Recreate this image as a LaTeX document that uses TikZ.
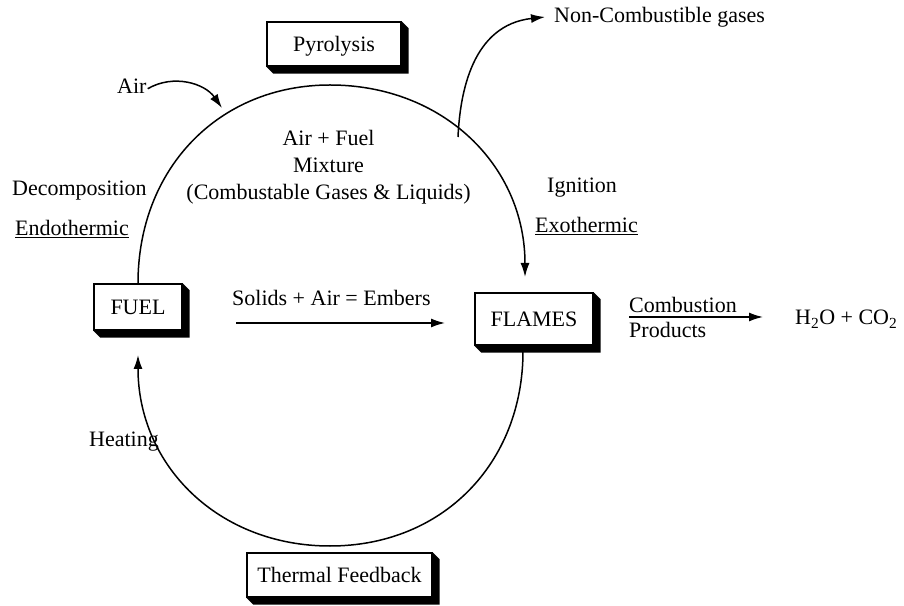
\documentclass[tikz,border=0pt]{standalone}
\usepackage{fontspec}
\setmainfont{Liberation Serif}
\usetikzlibrary{arrows.meta}
\begin{document}
\begin{tikzpicture}[x=1pt,y=1pt,
  every node/.style={font=\fontsize{22}{26}\selectfont, inner sep=0pt},
  lbl/.style={anchor=base west},
  clbl/.style={anchor=base},
  boxnode/.style={draw, line width=1.3pt, fill=white, text height=14.6pt, text depth=0pt},
  conn/.style={line width=1.5pt},
  arr/.style={conn, -{Latex[length=14pt,width=9pt]}},
  shade3d/.style={fill=black}]
\useasboundingbox (0,0) rectangle (904,605);
% boxes
\node[boxnode, minimum width=134pt, minimum height=44pt] (pyro) at (334,561) {Pyrolysis};
\node[boxnode, minimum width=88pt, minimum height=46pt] (fuel) at (138,298) {FUEL};
\node[boxnode, minimum width=118pt, minimum height=52pt] (flames) at (534,286) {FLAMES};
\node[boxnode, minimum width=185pt, minimum height=44pt] (thermal) at (339.5,30) {Thermal Feedback};
\foreach \n in {pyro,fuel,flames,thermal}{
  \fill[shade3d] (\n.south west) -- ([shift={(7pt,-7pt)}]\n.south west)
    -- ([shift={(7pt,-7pt)}]\n.south east) -- ([shift={(7pt,-7pt)}]\n.north east)
    -- (\n.north east) -- (\n.south east) -- cycle;
}
% labels
\node[clbl] (mix1) at (328.5,459) {Air + Fuel};
\node[clbl] (mix2) at (328.5,432) {Mixture};
\node[clbl] (mix3) at (328.5,405) {(Combustable Gases \& Liquids)};
\node[lbl] (decomp) at (12,409) {Decomposition};
\node[lbl] (endo) at (15,369) {\underline{Endothermic}};
\node[lbl] (ign) at (547,412) {Ignition};
\node[lbl] (exo) at (535,372) {\underline{Exothermic}};
\node[lbl] (embers) at (232,299) {Solids + Air = Embers};
\node[lbl] (comb) at (629,292) {Combustion};
\node[lbl] (prod) at (629,267) {Products};
\node[lbl] (h2o) at (795,280) {H\textsubscript{2}O + CO\textsubscript{2}};
\node[lbl] (heat) at (89,158) {Heating};
\node[lbl] (noncomb) at (554,582) {Non-Combustible gases};
\node[lbl] (air) at (117,511) {Air};
% main cycle
\coordinate (ctop) at (330,520);
\coordinate (cbot) at (330,59);
\coordinate (fltop) at (525,328);
\coordinate (flb) at (523,254);
\coordinate (fubot) at (138,250);
\draw[arr] (fuel.north) .. controls (138,436.4) and (218.6,520) .. (ctop)
  .. controls (443,520) and (525,439.4) .. (fltop);
\draw[arr] (flb) .. controls (523,141) and (442,59) .. (cbot)
  .. controls (218.6,59) and (138,139.2) .. (fubot);
% side arrows
\coordinate (airtip) at (222,497);
\draw[arr] ([xshift=1pt,yshift=-2pt]air.east) to[out=30,in=125] (airtip);
\coordinate (ncs) at (458,468);
\coordinate (nctip) at (545,588);
\draw[arr] (ncs) .. controls (460,512) and (472,580) .. (nctip);
\coordinate (e1) at (236,282);
\coordinate (e2) at (445,282);
\draw[arr] (e1) -- (e2);
\coordinate (c1) at (629,288);
\coordinate (c2) at (763,288);
\draw[arr] (c1) -- (c2);
\end{tikzpicture}
\end{document}
